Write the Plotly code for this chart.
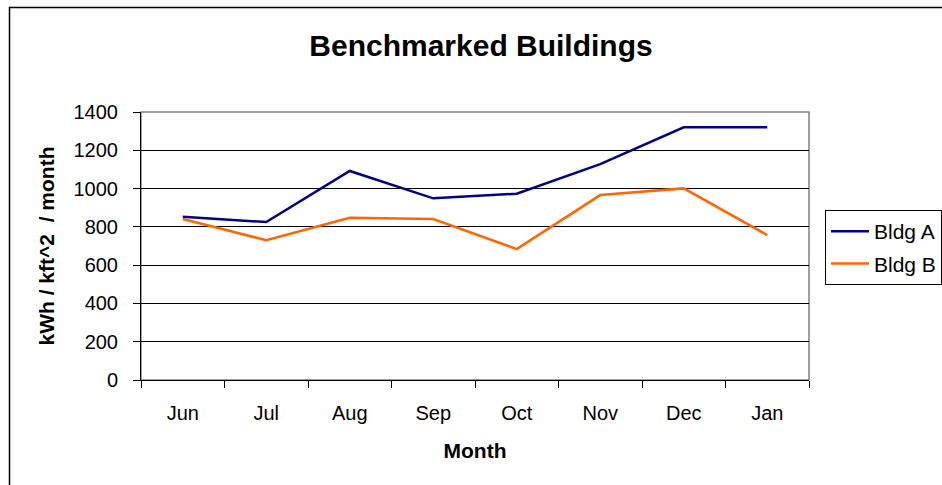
import plotly.graph_objects as go

months = ["Jun", "Jul", "Aug", "Sep", "Oct", "Nov", "Dec", "Jan"]
bldg_a = [853, 825, 1092, 949, 973, 1128, 1320, 1320]
bldg_b = [841, 730, 848, 841, 684, 966, 1001, 757]
y_ticks = [0, 200, 400, 600, 800, 1000, 1200, 1400]

FONT = "Liberation Sans, Arial, sans-serif"

fig = go.Figure()
fig.add_trace(go.Scatter(x=months, y=bldg_a, mode="lines", name="Bldg A",
                         line=dict(color="#000080", width=2.5), legendgroup="a"))
fig.add_trace(go.Scatter(x=months, y=bldg_b, mode="lines", name="Bldg B",
                         line=dict(color="#FF6600", width=2.5), legendgroup="b"))

L, R, T, B = 141, 133, 112, 105
W, H = 942, 485
pw, ph = W - L - R, H - T - B

def px_x(x):
    return (x - L) / pw

def px_y(y):
    return (H - B - y) / ph

fig.update_layout(
    width=W, height=H,
    margin=dict(l=L, r=R, t=T, b=B, autoexpand=False),
    paper_bgcolor="white", plot_bgcolor="white",
    font=dict(family=FONT, color="black", size=20),
    title=dict(text="<b>Benchmarked Buildings</b>", x=481 / W,
               xanchor="center", y=1 - 45 / H, yanchor="middle",
               font=dict(size=30, family=FONT, color="black")),
    showlegend=True,
    legend=dict(x=px_x(825), xanchor="left", y=px_y(210), yanchor="top",
                bordercolor="black", borderwidth=1, bgcolor="white",
                font=dict(size=21, family=FONT, color="black"),
                itemwidth=38, entrywidth=135, entrywidthmode="pixels",
                traceorder="grouped", tracegroupgap=2),
    xaxis=dict(type="category", tickson="boundaries", ticks="outside", ticklen=7,
               tickcolor="black", tickwidth=1, showline=True, linecolor="black",
               linewidth=1, showgrid=False, zeroline=False,
               tickfont=dict(size=20, family=FONT, color="black"),
               ticklabelstandoff=15,
               title=dict(text="<b>Month</b>", font=dict(size=21, family=FONT, color="black"),
                          standoff=20),
               range=[-0.5, 7.5]),
    yaxis=dict(range=[0, 1400], tickvals=y_ticks, ticks="outside", ticklen=7,
               tickcolor="black", tickwidth=1, showline=True, linecolor="black",
               linewidth=1, showgrid=True, gridcolor="black", gridwidth=1,
               zeroline=False, tickfont=dict(size=20, family=FONT, color="black"),
               ticklabelstandoff=11,
               title=dict(text="<b>kWh / kft^2  / month</b>",
                          font=dict(size=21, family=FONT, color="black"), standoff=13)),
    shapes=[
        dict(type="rect", xref="paper", yref="paper", x0=0, x1=1, y0=0, y1=1,
             line=dict(color="#808080", width=1.5), layer="below"),
        dict(type="rect", xref="paper", yref="paper", x0=px_x(9.5), x1=px_x(1100),
             y0=px_y(600), y1=px_y(7.5), line=dict(color="black", width=1.5)),
    ],
)

fig.write_html("out.html", config={"displayModeBar": False},
               post_script="document.body.style.margin='0';")
